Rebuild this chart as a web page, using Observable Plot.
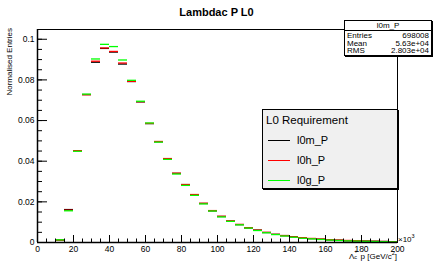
<!DOCTYPE html>
<html><head><meta charset="utf-8">
<script src="https://cdn.jsdelivr.net/npm/d3@7"></script>
<script src="https://cdn.jsdelivr.net/npm/@observablehq/plot@0.6"></script>
<style>
body{margin:0;background:#fff;font-family:"Liberation Sans",Arial,sans-serif;color:#000;}
#wrap{position:relative;width:433px;height:264px;overflow:hidden;background:#fff;}
#wrap svg{position:absolute;left:0;top:0;}
.abs{position:absolute;white-space:nowrap;}
#title{left:0;width:433px;top:5px;text-align:center;font-weight:bold;font-size:11px;line-height:14px;}
#ylab{left:5px;top:28px;font-size:8px;writing-mode:vertical-rl;transform:rotate(180deg);}
#xlab{right:36px;top:251px;font-size:8px;line-height:10px;height:12px;}
#xexp{left:398px;top:235px;font-size:8px;}
#stats{left:344px;top:20px;width:86px;height:34px;background:#fff;border:1px solid #000;box-shadow:1px 1px 0 #000;font-size:8px;}
#stats .hd{text-align:center;border-bottom:1px solid #000;height:9px;line-height:9px;}
#stats .row{position:absolute;left:2px;right:2px;display:flex;justify-content:space-between;height:8px;line-height:8px;}
#legend{left:262px;top:109px;width:134px;height:78px;background:#f0f0f0;border:1px solid #000;box-shadow:1px 1px 0 #000;}
#legend .hd{position:absolute;left:3px;top:3px;font-size:11.5px;line-height:14px;}
#legend .en{position:absolute;left:5px;height:14px;font-size:11px;line-height:14px;}
#legend .ln{position:absolute;left:0;top:7px;width:22px;height:1px;}
#legend .tx{position:absolute;left:29px;top:0;}
.stk{display:inline-block;position:relative;width:4px;height:8px;vertical-align:baseline;}
.stk .s1{position:absolute;left:0;top:-3px;font-size:5.5px;line-height:6px;}
.stk .s2{position:absolute;left:0;top:3px;font-size:5.5px;line-height:6px;}
</style></head><body><div id="wrap"></div>
<script>
// bin lower edges (×10^3 GeV/c^2), bin width 5
const binLow = [10,15,20,25,30,35,40,45,50,55,60,65,70,75,80,85,90,95,100,105,110,115,120,125,130,135,140,145,150,155,160,165,170,175,180,185,190,195];
const l0m = [0.0012,0.0162,0.0452,0.0728,0.0887,0.0955,0.0937,0.0878,0.0792,0.0692,0.0585,0.0496,0.0412,0.0340,0.0285,0.0235,0.0192,0.0156,0.0128,0.0105,0.0088,0.0072,0.0061,0.0049,0.0040,0.0034,0.0028,0.0023,0.0019,0.0016,0.0013,0.0011,0.0009,0.0008,0.0007,0.0006,0.0005,0.0004];
const l0h = [0.0012,0.0159,0.0452,0.0727,0.0892,0.0957,0.0940,0.0883,0.0793,0.0693,0.0586,0.0497,0.0413,0.0341,0.0285,0.0236,0.0193,0.0157,0.0129,0.0106,0.0089,0.0073,0.0061,0.0050,0.0040,0.0034,0.0028,0.0024,0.0020,0.0017,0.0014,0.0012,0.0010,0.0009,0.0007,0.0006,0.0005,0.0004];
const l0g = [0.0013,0.0156,0.0449,0.0730,0.0903,0.0975,0.0964,0.0898,0.0798,0.0695,0.0588,0.0494,0.0409,0.0337,0.0281,0.0232,0.0190,0.0155,0.0126,0.0104,0.0087,0.0071,0.0059,0.0048,0.0039,0.0032,0.0026,0.0021,0.0018,0.0015,0.0012,0.0010,0.0008,0.0007,0.0006,0.0005,0.0004,0.0003];
const binWidth = 5;
const xTicks = [0,20,40,60,80,100,120,140,160,180,200];
const xMinor = d3.range(0, 201, 5);
const yTicks = [0,0.02,0.04,0.06,0.08,0.1];
const yMinor = d3.range(0, 0.1001, 0.005);
const seriesNames = ["l0m_P","l0h_P","l0g_P"];
const seriesColors = ["#000000","#ff0000","#00ff00"];
const series = [l0m, l0h, l0g];
const statsRows = [["Entries","698008"],["Mean","5.63e+04"],["RMS","2.803e+04"]];

const W = 433, H = 264, mL = 37, mR = 36, mT = 29, mB = 22;
const PW = W - mL - mR, PH = H - mT - mB;

const rowsFor = vals => vals.map((v, i) => ({lo: binLow[i], hi: binLow[i] + binWidth, v}));

const chart = Plot.plot({
  width: W, height: H,
  marginLeft: mL, marginRight: mR, marginTop: mT, marginBottom: mB,
  x: {domain: [0, 200]},
  y: {domain: [0, 0.1048]},
  style: {background: "transparent", fontFamily: "'Liberation Sans', Arial, sans-serif", color: "#000"},
  marks: [
    ...series.map((s, k) => Plot.ruleY(rowsFor(s), {x1: "lo", x2: "hi", y: "v", stroke: seriesColors[k], strokeWidth: 1.3})),
    Plot.frame({stroke: "#000", strokeWidth: 1}),
    Plot.ruleX(xMinor, {x: d => d, insetTop: PH - 3.5, stroke: "#000"}),
    Plot.ruleX(xTicks, {x: d => d, insetTop: PH - 7, stroke: "#000"}),
    Plot.ruleY(yMinor, {y: d => d, insetRight: PW - 5, stroke: "#000"}),
    Plot.ruleY(yTicks, {y: d => d, insetRight: PW - 10, stroke: "#000"}),
    Plot.ruleY([0], {stroke: "#000", strokeWidth: 1.5}),
    Plot.ruleX([0], {stroke: "#000", strokeWidth: 1.5}),
    Plot.axisX({ticks: xTicks, tickSize: 0, tickPadding: 3, fontSize: 8.5, label: null, tickFormat: d => String(d)}),
    Plot.axisY({ticks: yTicks, tickSize: 0, tickPadding: 3, fontSize: 8.5, label: null, tickFormat: d => String(d)})
  ]
});
const wrap = document.getElementById("wrap");
wrap.appendChild(chart);

const add = (html) => { wrap.insertAdjacentHTML("beforeend", html); };
add(`<div class="abs" id="title">Lambdac P L0</div>`);
add(`<div class="abs" id="ylab">Normalised Entries</div>`);
add(`<div class="abs" id="xlab">Λ<span class="stk"><span class="s1">+</span><span class="s2">c</span></span> p [GeV/c<sup style="font-size:5.5px;line-height:0">2</sup>]</div>`);
add(`<div class="abs" id="xexp">×10<sup style="font-size:5.5px;line-height:0">3</sup></div>`);
add(`<div class="abs" id="stats"><div class="hd">l0m_P</div>` +
  statsRows.map((r, k) => `<div class="row" style="top:${11 + 7.6 * k}px"><span>${r[0]}</span><span>${r[1]}</span></div>`).join("") +
  `</div>`);
add(`<div class="abs" id="legend"><div class="hd">L0 Requirement</div>` +
  seriesNames.map((n, k) => `<div class="en" style="top:${23 + 20 * k}px"><span class="ln" style="background:${seriesColors[k]}"></span><span class="tx">${n}</span></div>`).join("") +
  `</div>`);
</script></body></html>
